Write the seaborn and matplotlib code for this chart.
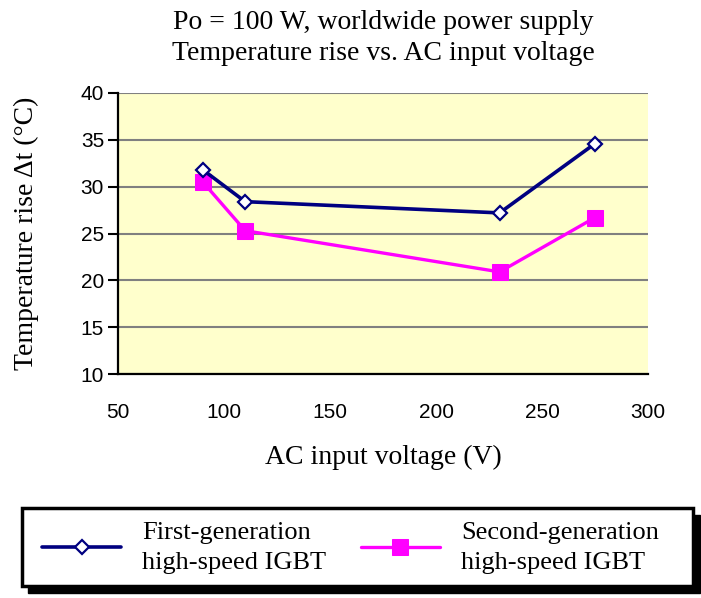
import pandas as pd
import seaborn as sns
import matplotlib.pyplot as plt
from matplotlib.patches import Rectangle

# values
voltage = [90, 110, 230, 275]
first_gen = [31.8, 28.4, 27.2, 34.6]
second_gen = [30.5, 25.3, 20.9, 26.7]
labels = ["First-generation\nhigh-speed IGBT", "Second-generation\nhigh-speed IGBT"]
x_ticks = [50, 100, 150, 200, 250, 300]
y_ticks = [10, 15, 20, 25, 30, 35, 40]

df = pd.DataFrame({"voltage": voltage, "first": first_gen, "second": second_gen})

sns.set_style("white")
plt.rcParams["font.family"] = ["Liberation Serif", "DejaVu Serif"]
plt.rcParams["text.color"] = "black"
plt.rcParams["axes.labelcolor"] = "black"
plt.rcParams["xtick.color"] = "black"
plt.rcParams["ytick.color"] = "black"

fig = plt.figure(figsize=(7.01, 5.98), dpi=100)
ax = fig.add_axes([118/701, 1 - 374/598, 530/701, 281/598])
ax.set_facecolor("#FFFFCC")

sns.lineplot(data=df, x="voltage", y="first", ax=ax, color="#000080", lw=2.6,
             marker="D", markersize=7, markerfacecolor="white",
             markeredgecolor="#000080", markeredgewidth=1.6, label=labels[0], zorder=4)
sns.lineplot(data=df, x="voltage", y="second", ax=ax, color="#FF00FF", lw=2.4,
             marker="s", markersize=11, markerfacecolor="#FF00FF",
             markeredgecolor="#FF00FF", label=labels[1], zorder=3)

ax.set_xlim(50, 300)
ax.set_ylim(10, 40)
ax.set_xticks(x_ticks)
ax.set_yticks(y_ticks)
ax.yaxis.grid(True, color="#808080", lw=1.5)
ax.set_axisbelow(True)
for s in ["top", "right"]:
    ax.spines[s].set_visible(False)
for s in ["left", "bottom"]:
    ax.spines[s].set_color("black")
    ax.spines[s].set_linewidth(1.6)

ax.tick_params(axis="x", direction="in", length=7, width=1.5, pad=21, color="black", labelcolor="black")
ax.tick_params(axis="y", direction="out", length=7, width=1.5, pad=3, color="black", labelcolor="black", left=True)
for t in ax.get_xticklabels() + ax.get_yticklabels():
    t.set_family(["Liberation Sans", "DejaVu Sans"])
    t.set_fontsize(15)

ax.set_xlabel("AC input voltage (V)", fontsize=20, labelpad=16, color="black")
ax.set_ylabel("Temperature rise \u0394t (\u00b0C)", fontsize=20, labelpad=30, color="black")
ax.set_title("Po = 100 W, worldwide power supply\nTemperature rise vs. AC input voltage",
             fontsize=20, pad=24, linespacing=1.3, color="black")

handles, lbls = ax.get_legend_handles_labels()
ax.get_legend().remove()

# legend box with solid black shadow
fig.patches.append(Rectangle((28/701, 1 - 593/598), 672/701, 78/598,
                             transform=fig.transFigure, facecolor="black",
                             edgecolor="black", zorder=0))
fig.patches.append(Rectangle((22/701, 1 - 586/598), 671/701, 78/598,
                             transform=fig.transFigure, facecolor="white",
                             edgecolor="black", lw=2.5, zorder=1))
leg = fig.legend(handles, lbls, loc="center", bbox_to_anchor=(0.5, 1 - 548/598),
                 ncol=2, frameon=False, fontsize=19, handlelength=3.0,
                 columnspacing=1.3, handletextpad=0.8)
for t in leg.get_texts():
    t.set_linespacing(1.45)
    t.set_color("black")

fig.savefig("out.png", dpi=100)
